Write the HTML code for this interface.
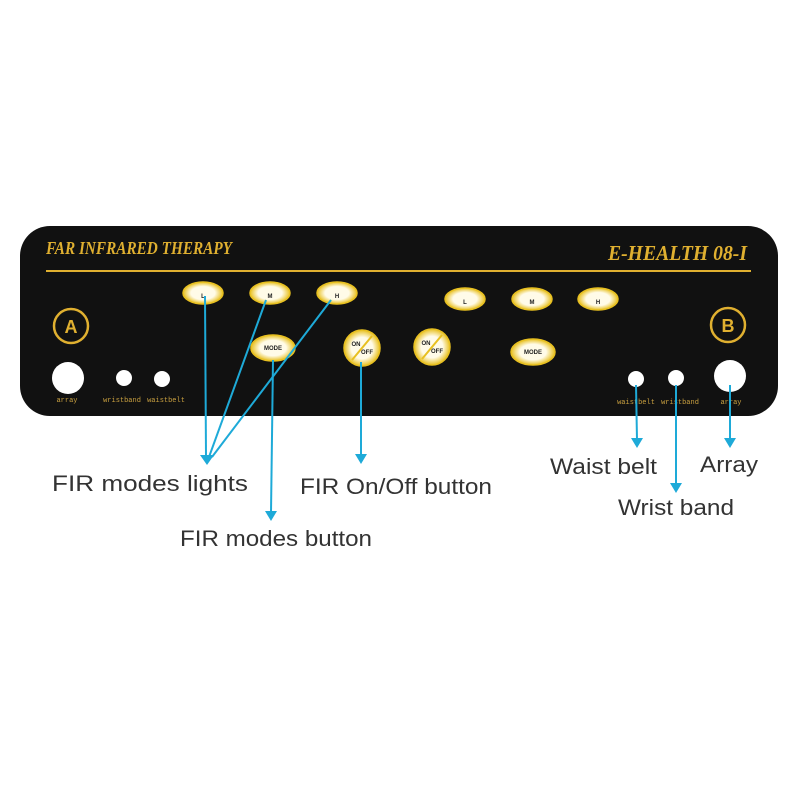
<!DOCTYPE html>
<html><head><style>
body{margin:0;background:#fff;width:800px;height:800px;overflow:hidden}
</style></head><body>
<svg width="800" height="800" viewBox="0 0 800 800" xmlns="http://www.w3.org/2000/svg">
<defs>
<radialGradient id="btn" cx="50%" cy="50%" r="50%">
<stop offset="0.6" stop-color="#fffbe8"/><stop offset="1" stop-color="#e8c020"/>
</radialGradient>
</defs>
<rect x="20" y="226" width="758" height="190" rx="30" fill="#111"/>
<text x="46" y="254" textLength="186" lengthAdjust="spacingAndGlyphs" font-family="Liberation Serif,serif" font-style="italic" font-weight="bold" font-size="18" fill="#e0b030">FAR INFRARED THERAPY</text>
<text x="608" y="260" textLength="139" lengthAdjust="spacingAndGlyphs" font-family="Liberation Serif,serif" font-style="italic" font-weight="bold" font-size="21" fill="#e0b030">E-HEALTH 08-I</text>
<line x1="46" y1="271" x2="751" y2="271" stroke="#e0b030" stroke-width="2"/>
<g fill="url(#btn)" stroke="#e8c020" stroke-width="1.5">
<ellipse cx="203" cy="293" rx="20" ry="11"/>
<ellipse cx="270" cy="293" rx="20" ry="11"/>
<ellipse cx="337" cy="293" rx="20" ry="11"/>
<ellipse cx="465" cy="299" rx="20" ry="11"/>
<ellipse cx="532" cy="299" rx="20" ry="11"/>
<ellipse cx="598" cy="299" rx="20" ry="11"/>
<ellipse cx="273" cy="348" rx="22" ry="13"/>
<ellipse cx="533" cy="352" rx="22" ry="13"/>
<circle cx="362" cy="348" r="18"/>
<circle cx="432" cy="347" r="18"/>
</g>
<g font-family="Liberation Sans,sans-serif" font-weight="bold" font-size="6" fill="#222" text-anchor="middle">
<text x="203" y="298">L</text><text x="270" y="298">M</text><text x="337" y="298">H</text>
<text x="465" y="304">L</text><text x="532" y="304">M</text><text x="598" y="304">H</text>
<text x="273" y="350">MODE</text><text x="533" y="354">MODE</text>
<text x="356" y="346">ON</text><text x="367" y="354">OFF</text>
<text x="426" y="345">ON</text><text x="437" y="353">OFF</text>
</g>
<line x1="352" y1="360" x2="372" y2="336" stroke="#e8c020" stroke-width="2"/>
<line x1="422" y1="359" x2="442" y2="335" stroke="#e8c020" stroke-width="2"/>
<circle cx="71" cy="326" r="17" fill="none" stroke="#e0b030" stroke-width="2.5"/>
<text x="71" y="333" text-anchor="middle" font-family="Liberation Sans,sans-serif" font-weight="bold" font-size="18" fill="#e0b030">A</text>
<circle cx="728" cy="325" r="17" fill="none" stroke="#e0b030" stroke-width="2.5"/>
<text x="728" y="332" text-anchor="middle" font-family="Liberation Sans,sans-serif" font-weight="bold" font-size="18" fill="#e0b030">B</text>
<g fill="#fff">
<circle cx="68" cy="378" r="16"/><circle cx="124" cy="378" r="8"/><circle cx="162" cy="379" r="8"/>
<circle cx="636" cy="379" r="8"/><circle cx="676" cy="378" r="8"/><circle cx="730" cy="376" r="16"/>
</g>
<g font-family="Liberation Mono,monospace" font-size="7" fill="#c9a040" text-anchor="middle">
<text x="67" y="402">array</text><text x="122" y="402">wristband</text><text x="166" y="402">waistbelt</text>
<text x="636" y="404">waistbelt</text><text x="680" y="404">wristband</text><text x="731" y="404">array</text>
</g>
<g stroke="#1eaad8" stroke-width="2" fill="none">
<line x1="205" y1="296" x2="206" y2="456"/>
<line x1="266" y1="300" x2="209" y2="457"/>
<line x1="331" y1="300" x2="212" y2="457"/>
<line x1="273" y1="360" x2="271" y2="513"/>
<line x1="361" y1="362" x2="361" y2="456"/>
<line x1="636" y1="385" x2="637" y2="440"/>
<line x1="676" y1="385" x2="676" y2="486"/>
<line x1="730" y1="385" x2="730" y2="440"/>
</g>
<g fill="#1eaad8">
<polygon points="200,455 214,455 207,465"/>
<polygon points="265,511 277,511 271,521"/>
<polygon points="355,454 367,454 361,464"/>
<polygon points="631,438 643,438 637,448"/>
<polygon points="670,483 682,483 676,493"/>
<polygon points="724,438 736,438 730,448"/>
</g>
<g font-family="Liberation Sans,sans-serif" font-size="22" fill="#333">
<text x="52" y="491" textLength="196" lengthAdjust="spacingAndGlyphs">FIR modes lights</text>
<text x="180" y="546" textLength="192" lengthAdjust="spacingAndGlyphs">FIR modes button</text>
<text x="300" y="494" textLength="192" lengthAdjust="spacingAndGlyphs">FIR On/Off button</text>
<text x="550" y="474" textLength="107" lengthAdjust="spacingAndGlyphs">Waist belt</text>
<text x="700" y="472" textLength="58" lengthAdjust="spacingAndGlyphs">Array</text>
<text x="618" y="515" textLength="116" lengthAdjust="spacingAndGlyphs">Wrist band</text>
</g>
</svg>
</body></html>
